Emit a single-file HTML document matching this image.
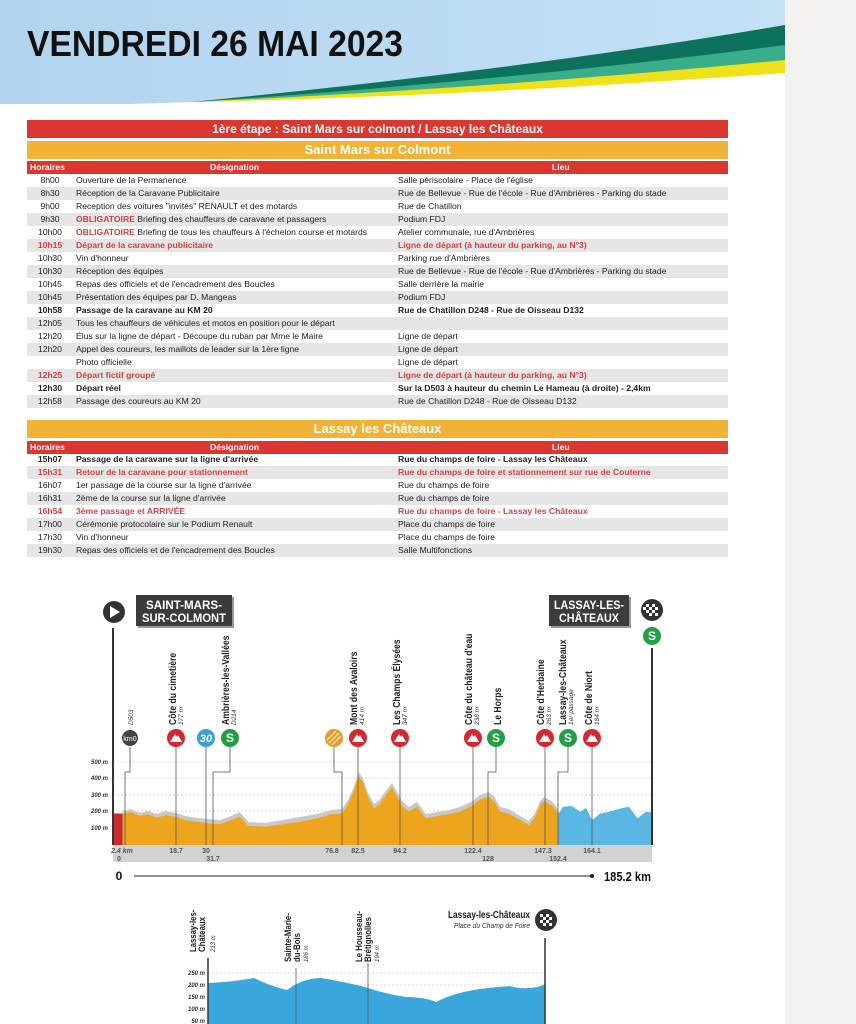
<!DOCTYPE html>
<html><head><meta charset="utf-8"><style>
*{margin:0;padding:0;box-sizing:border-box}
body{width:856px;height:1024px;overflow:hidden;background:#fff;font-family:"Liberation Sans",sans-serif;position:relative}
#side{position:absolute;left:785px;top:0;width:71px;height:1024px;background:#f3f2f0}
.row{position:absolute;left:27px;width:701px;height:13px;font-size:8.6px;line-height:13px;color:#222}
.row.g{background:#e6e6e6}
.row span{position:absolute;top:0;white-space:nowrap}
.t{left:0;width:46px;text-align:center}
.d{left:49px}
.l{left:371px}
.b{font-weight:bold}
.r{color:#d64040;font-weight:bold}
.bar{position:absolute;left:27px;width:701px;color:#fff;font-weight:bold;text-align:center}
.hdr{background:#d9372f;height:13px;font-size:8.6px;line-height:13px}
.hdr span{position:absolute;top:0}
</style></head><body>
<div id="side"></div>
<svg style="position:absolute;left:0;top:0" width="785" height="110">
<defs><linearGradient id="bg" x1="0" x2="1"><stop offset="0" stop-color="#b2d4ee"/><stop offset="1" stop-color="#c4e1f6"/></linearGradient></defs>
<rect x="0" y="0" width="785" height="104" fill="url(#bg)"/>
<path d="M130 104 Q450 95 785 73 L785 110 L0 110 L0 104Z" fill="#fff"/>
<path d="M191 102 Q500 85 785 59 L785 73 Q450 97 191 102Z" fill="#efe21a"/>
<path d="M191 102 Q500 80 785 44 L785 60 Q500 88 191 102Z" fill="#3aae8b"/>
<path d="M191 102 Q520 70 785 25 L785 45 Q500 82 191 102Z" fill="#0d725d"/>
<text x="27" y="56" font-family="'Liberation Sans',sans-serif" font-weight="bold" font-size="36" textLength="376" lengthAdjust="spacingAndGlyphs" fill="#111">VENDREDI 26 MAI 2023</text>
</svg>

<div class="bar" style="top:120px;height:18px;background:#d9372f;font-size:12px;line-height:18px">1ère étape : Saint Mars sur colmont / Lassay les Châteaux</div>
<div class="bar" style="top:141px;height:18px;background:#f2b233;font-size:13px;line-height:18px">Saint Mars sur Colmont</div>
<div class="bar hdr" style="top:161px"><span style="left:3px">Horaires</span><span style="left:183px">Désignation</span><span style="left:525px">Lieu</span></div>

<div class="row" style="top:174px"><span class="t">8h00</span><span class="d">Ouverture de la Permanence</span><span class="l">Salle périscolaire - Place de l'église</span></div>
<div class="row g" style="top:187px"><span class="t">8h30</span><span class="d">Réception de la Caravane Publicitaire</span><span class="l">Rue de Bellevue - Rue de l'école - Rue d'Ambrières - Parking du stade</span></div>
<div class="row" style="top:200px"><span class="t">9h00</span><span class="d">Reception des voitures "invités" RENAULT et des motards</span><span class="l">Rue de Chatillon</span></div>
<div class="row g" style="top:213px"><span class="t">9h30</span><span class="d"><b style="color:#d64040">OBLIGATOIRE</b> Briefing des chauffeurs de caravane et passagers</span><span class="l">Podium FDJ</span></div>
<div class="row" style="top:226px"><span class="t">10h00</span><span class="d"><b style="color:#d64040">OBLIGATOIRE</b> Briefing de tous les chauffeurs à l'échelon course et motards</span><span class="l">Atelier communale, rue d'Ambrières</span></div>
<div class="row g r" style="top:239px"><span class="t">10h15</span><span class="d">Départ de la caravane publicitaire</span><span class="l">Ligne de départ (à hauteur du parking, au N°3)</span></div>
<div class="row" style="top:252px"><span class="t">10h30</span><span class="d">Vin d'honneur</span><span class="l">Parking rue d'Ambrières</span></div>
<div class="row g" style="top:265px"><span class="t">10h30</span><span class="d">Réception des équipes</span><span class="l">Rue de Bellevue - Rue de l'école - Rue d'Ambrières - Parking du stade</span></div>
<div class="row" style="top:278px"><span class="t">10h45</span><span class="d">Repas des officiels et de l'encadrement des Boucles</span><span class="l">Salle derrière la mairie</span></div>
<div class="row g" style="top:291px"><span class="t">10h45</span><span class="d">Présentation des équipes par D. Mangeas</span><span class="l">Podium FDJ</span></div>
<div class="row b" style="top:304px"><span class="t">10h58</span><span class="d">Passage de la caravane au KM 20</span><span class="l">Rue de Chatillon D248 - Rue de Oisseau D132</span></div>
<div class="row g" style="top:317px"><span class="t">12h05</span><span class="d">Tous les chauffeurs de véhicules et motos en position pour le départ</span></div>
<div class="row" style="top:330px"><span class="t">12h20</span><span class="d">Élus sur la ligne de départ - Découpe du ruban par Mme le Maire</span><span class="l">Ligne de départ</span></div>
<div class="row g" style="top:343px"><span class="t">12h20</span><span class="d">Appel des coureurs, les maillots de leader sur la 1ère ligne</span><span class="l">Ligne de départ</span></div>
<div class="row" style="top:356px"><span class="d">Photo officielle</span><span class="l">Ligne de départ</span></div>
<div class="row g r" style="top:369px"><span class="t">12h25</span><span class="d">Départ fictif groupé</span><span class="l">Ligne de départ (à hauteur du parking, au N°3)</span></div>
<div class="row b" style="top:382px"><span class="t">12h30</span><span class="d">Départ réel</span><span class="l">Sur la D503 à hauteur du chemin Le Hameau (à droite) - 2,4km</span></div>
<div class="row g" style="top:395px"><span class="t">12h58</span><span class="d">Passage des coureurs au KM 20</span><span class="l">Rue de Chatillon D248 - Rue de Oisseau D132</span></div>

<div class="bar" style="top:420px;height:18px;background:#f2b233;font-size:13px;line-height:18px">Lassay les Châteaux</div>
<div class="bar hdr" style="top:441px"><span style="left:3px">Horaires</span><span style="left:183px">Désignation</span><span style="left:525px">Lieu</span></div>
<div class="row b" style="top:453px"><span class="t">15h07</span><span class="d">Passage de la caravane sur la ligne d'arrivée</span><span class="l">Rue du champs de foire - Lassay les Châteaux</span></div>
<div class="row g r" style="top:466px"><span class="t">15h31</span><span class="d">Retour de la caravane pour stationnement</span><span class="l">Rue du champs de foire et stationnement sur rue de Couterne</span></div>
<div class="row" style="top:479px"><span class="t">16h07</span><span class="d">1er passage de la course sur la ligne d'arrivée</span><span class="l">Rue du champs de foire</span></div>
<div class="row g" style="top:492px"><span class="t">16h31</span><span class="d">2ème de la course sur la ligne d'arrivée</span><span class="l">Rue du champs de foire</span></div>
<div class="row r" style="top:505px"><span class="t">16h54</span><span class="d">3ème passage et ARRIVÉE</span><span class="l">Rue du champs de foire - Lassay les Châteaux</span></div>
<div class="row g" style="top:518px"><span class="t">17h00</span><span class="d">Cérémonie protocolaire sur le Podium Renault</span><span class="l">Place du champs de foire</span></div>
<div class="row" style="top:531px"><span class="t">17h30</span><span class="d">Vin d'honneur</span><span class="l">Place du champs de foire</span></div>
<div class="row g" style="top:544px"><span class="t">19h30</span><span class="d">Repas des officiels et de l'encadrement des Boucles</span><span class="l">Salle Multifonctions</span></div>

<svg style="position:absolute;left:0;top:0" width="785" height="1024" font-family="'Liberation Sans',sans-serif">
<g stroke="#ccc" stroke-dasharray="2,2" stroke-width="0.7">
<line x1="113" y1="762" x2="652" y2="762"/><line x1="113" y1="778" x2="652" y2="778"/><line x1="113" y1="795" x2="652" y2="795"/><line x1="113" y1="811" x2="652" y2="811"/><line x1="113" y1="828" x2="652" y2="828"/>
</g>
<g font-size="6" font-style="italic" font-weight="bold" fill="#333" text-anchor="end">
<text x="108" y="764">500 m</text><text x="108" y="780">400 m</text><text x="108" y="797">300 m</text><text x="108" y="813">200 m</text><text x="108" y="830">100 m</text></g>
<path d="M122.5 811 L131.1 809 L139.7 813 L148.2 811 L156.8 814 L165.4 811 L176 813 L185.4 816 L196.9 818 L208.3 819 L219.8 820 L231.2 816 L239.8 812 L248.4 822 L265.6 823 L282.7 820 L299.9 817 L317.1 814 L331.4 810 L342.2 809 L348.5 799 L354.2 786 L358.5 772 L362.8 778 L368.5 794 L374.3 804 L380 799 L385.7 791 L392 783 L397.2 792 L402.9 802 L408.6 807 L417.2 802 L425.8 814 L437.2 812 L448.7 810 L460.1 807 L472.7 801 L480.1 795 L488.7 792 L494.4 797 L500.2 807 L508.7 809 L520.2 816 L528.8 821 L534.5 814 L540.2 801 L543.9 797 L551.6 801 L558.5 809 L558.5 845 L122.5 845Z" fill="#c8c8c8"/>
<path d="M122.5 813.5 L131.1 811.8 L139.7 816 L148.2 814.3 L156.8 817.6 L165.4 815.1 L176 816.8 L185.4 820.1 L196.9 821.8 L208.3 823.4 L219.8 824.3 L231.2 820.1 L239.8 816.8 L248.4 825.9 L265.6 826.7 L282.7 824.3 L299.9 821.8 L317.1 818.4 L331.4 814.3 L342.2 813.5 L348.5 803.5 L354.2 790.2 L358.5 776.3 L362.8 781.9 L368.5 798.5 L374.3 808.5 L380 803.5 L385.7 795.2 L392 787.4 L397.2 796.9 L402.9 806.8 L408.6 811.8 L417.2 806.8 L425.8 818.4 L437.2 816 L448.7 814.3 L460.1 811.8 L472.7 805.2 L480.1 799.4 L488.7 796.9 L494.4 801.8 L500.2 811.8 L508.7 813.5 L520.2 820.1 L528.8 825.1 L534.5 818.4 L540.2 805.2 L543.9 801.3 L551.6 805.2 L558.5 813.5 L558.5 845 L122.5 845Z" fill="#eea51e"/>
<path d="M558.5 813.5 L563.1 806.8 L571.7 806 L580.3 811.8 L586 807.7 L592 820.1 L600.3 813.5 L608.9 811.8 L620.3 808.5 L628.9 806.8 L637.5 818.4 L646.1 811.8 L652.4 812.6 L652.4 845 L558.5 845Z" fill="#5ab6e2"/>
<path d="M113 813.5 L122.5 813.5 L122.5 845 L113 845Z" fill="#c62a2a"/>
<rect x="113" y="845" width="539" height="17" fill="#d2d2d2"/>
<g stroke="#555" stroke-width="0.8" fill="none">
<path d="M130 747 V772 H125 V845"/><line x1="176" y1="747" x2="176" y2="845"/><line x1="206" y1="747" x2="206" y2="845"/>
<path d="M230 747 V772 H213 V845"/><path d="M334 747 V772 H342 V845"/><line x1="358" y1="747" x2="358" y2="845"/>
<line x1="400" y1="747" x2="400" y2="845"/><line x1="473" y1="747" x2="473" y2="845"/><path d="M496 747 V772 H488 V845"/>
<line x1="545" y1="747" x2="545" y2="845"/><path d="M568 747 V772 H558 V845"/><line x1="592" y1="747" x2="592" y2="845"/>
</g>
<line x1="113" y1="628" x2="113" y2="845" stroke="#333" stroke-width="2"/>
<line x1="652" y1="648" x2="652" y2="845" stroke="#333" stroke-width="2"/>
<circle cx="130" cy="738" r="8" fill="#444"/><text x="130" y="741" font-size="7" fill="#fff" text-anchor="middle">km0</text>
<g fill="#d6262e"><circle cx="176" cy="738" r="9"/><circle cx="358" cy="738" r="9"/><circle cx="400" cy="738" r="9"/><circle cx="473" cy="738" r="9"/><circle cx="545" cy="738" r="9"/><circle cx="592" cy="738" r="9"/></g>
<g fill="#fff"><path d="M170 742 L175 734 L177 737 L178 735 L182 742Z"/><path d="M352 742 L357 734 L359 737 L360 735 L364 742Z"/><path d="M394 742 L399 734 L401 737 L402 735 L406 742Z"/><path d="M467 742 L472 734 L474 737 L475 735 L479 742Z"/><path d="M539 742 L544 734 L546 737 L547 735 L551 742Z"/><path d="M586 742 L591 734 L593 737 L594 735 L598 742Z"/></g>
<circle cx="206" cy="738" r="9" fill="#3a9fd8"/><text x="206" y="742" font-size="11" font-weight="bold" font-style="italic" fill="#fff" text-anchor="middle">30</text>
<g fill="#23a043"><circle cx="230" cy="738" r="9"/><circle cx="496" cy="738" r="9"/><circle cx="568" cy="738" r="9"/><circle cx="652" cy="636" r="9"/></g>
<g fill="#fff" font-size="12" font-weight="bold" text-anchor="middle"><text x="230" y="742">S</text><text x="496" y="742">S</text><text x="568" y="742">S</text><text x="652" y="640">S</text></g>
<circle cx="334" cy="738" r="9" fill="#e59a2a"/><path d="M329 743 L339 733 M332 745 L341 736 M327 740 L336 731" stroke="#fbe0a8" stroke-width="1.5"/>
<circle cx="114" cy="612" r="11" fill="#333"/><path d="M110 606 L120 612 L110 618Z" fill="#fff"/>
<circle cx="652" cy="610" r="11" fill="#333"/>
<g fill="#fff"><rect x="646" y="604" width="3" height="3"/><rect x="652" y="604" width="3" height="3"/><rect x="649" y="607" width="3" height="3"/><rect x="655" y="607" width="3" height="3"/><rect x="646" y="610" width="3" height="3"/><rect x="652" y="610" width="3" height="3"/><rect x="649" y="613" width="3" height="3"/><rect x="655" y="613" width="3" height="3"/><rect x="643" y="607" width="3" height="3"/></g>
<rect x="138" y="597" width="96" height="31" fill="#999"/>
<rect x="136" y="595" width="96" height="31" fill="#3b3b3b"/>
<text x="146" y="609" font-size="12" font-weight="bold" fill="#fff" textLength="76" lengthAdjust="spacingAndGlyphs">SAINT-MARS-</text>
<text x="142" y="622" font-size="12" font-weight="bold" fill="#fff" textLength="84" lengthAdjust="spacingAndGlyphs">SUR-COLMONT</text>
<rect x="551" y="597" width="80" height="31" fill="#999"/>
<rect x="549" y="595" width="80" height="31" fill="#3b3b3b"/>
<text x="554" y="609" font-size="12" font-weight="bold" fill="#fff" textLength="70" lengthAdjust="spacingAndGlyphs">LASSAY-LES-</text>
<text x="559" y="622" font-size="12" font-weight="bold" fill="#fff" textLength="60" lengthAdjust="spacingAndGlyphs">CHÂTEAUX</text>
<g font-size="10.5" font-weight="bold" fill="#222">
<text transform="translate(176,725) rotate(-90) scale(0.82,1)">Côte du cimetière</text>
<text transform="translate(229,725) rotate(-90) scale(0.82,1)">Ambrières-les-Vallées</text>
<text transform="translate(357,725) rotate(-90) scale(0.82,1)">Mont des Avaloirs</text>
<text transform="translate(400,725) rotate(-90) scale(0.82,1)">Les Champs Élysées</text>
<text transform="translate(472,725) rotate(-90) scale(0.82,1)">Côte du château d'eau</text>
<text transform="translate(501,725) rotate(-90) scale(0.82,1)">Le Horps</text>
<text transform="translate(544,725) rotate(-90) scale(0.82,1)">Côte d'Herbaine</text>
<text transform="translate(566,725) rotate(-90) scale(0.82,1)">Lassay-les-Châteaux</text>
<text transform="translate(592,725) rotate(-90) scale(0.82,1)">Côte de Niort</text>
</g>
<g font-size="6.5" font-style="italic" fill="#333">
<text transform="translate(133,725) rotate(-90)">D503</text>
<text transform="translate(183,725) rotate(-90)">177 m</text>
<text transform="translate(236,725) rotate(-90)">D214</text>
<text transform="translate(364,725) rotate(-90)">414 m</text>
<text transform="translate(407,725) rotate(-90)">347 m</text>
<text transform="translate(479,725) rotate(-90)">238 m</text>
<text transform="translate(551,725) rotate(-90)">263 m</text>
<text transform="translate(573,725) rotate(-90)">1er passage</text>
<text transform="translate(599,725) rotate(-90)">184 m</text>
</g>
<g font-size="7" font-weight="bold" fill="#555" text-anchor="middle">
<text x="122" y="853" font-style="italic">2.4 km</text><text x="176" y="853">18.7</text><text x="206" y="853">30</text>
<text x="332" y="853">76.8</text><text x="358" y="853">82.5</text><text x="400" y="853">94.2</text>
<text x="473" y="853">122.4</text><text x="543" y="853">147.3</text><text x="592" y="853">164.1</text>
<text x="119" y="861">0</text><text x="213" y="861">31.7</text><text x="488" y="861">128</text><text x="558" y="861">152.4</text>
</g>
<text x="119" y="880" font-size="12" font-weight="bold" fill="#111" text-anchor="middle">0</text>
<line x1="134" y1="876" x2="591" y2="876" stroke="#222" stroke-width="1"/><circle cx="592" cy="876" r="2" fill="#222"/>
<text x="604" y="881" font-size="13" font-weight="bold" fill="#111" textLength="47" lengthAdjust="spacingAndGlyphs">185.2 km</text>

<g stroke="#e3a0a0" stroke-dasharray="2,2" stroke-width="0.6"><line x1="208" y1="973" x2="545" y2="973"/><line x1="208" y1="985" x2="545" y2="985"/></g>
<g font-size="6" font-style="italic" font-weight="bold" fill="#333" text-anchor="end">
<text x="205" y="975">250 m</text><text x="205" y="987">200 m</text><text x="205" y="999">150 m</text><text x="205" y="1011">100 m</text><text x="205" y="1023">50 m</text></g>
<path d="M208 983 Q232 982 254 978 Q270 986 287 990 Q303 978 321 978 Q345 982 365 987 Q385 994 406 997 Q425 997 436 1002 Q444 998 450 996 Q465 991 480 989 Q495 987 510 986 Q520 989 528 988 Q538 988 545 984 L545 1024 L208 1024Z" fill="#3aa6de"/>
<line x1="208" y1="958" x2="208" y2="1024" stroke="#333" stroke-width="1.5"/>
<line x1="545" y1="938" x2="545" y2="1024" stroke="#333" stroke-width="1.5"/>
<line x1="296" y1="968" x2="296" y2="1024" stroke="#555" stroke-width="0.8"/>
<line x1="368" y1="963" x2="368" y2="1024" stroke="#555" stroke-width="0.8"/>
<g font-size="9.5" font-weight="bold" fill="#222">
<text transform="translate(196,952) rotate(-90) scale(0.82,1)">Lassay-les-</text><text transform="translate(205,952) rotate(-90) scale(0.82,1)">Châteaux</text>
<text transform="translate(291,962) rotate(-90) scale(0.82,1)">Sainte-Marie-</text><text transform="translate(300,962) rotate(-90) scale(0.82,1)">du-Bois</text>
<text transform="translate(362,962) rotate(-90) scale(0.82,1)">Le Housseau-</text><text transform="translate(371,962) rotate(-90) scale(0.82,1)">Brétignolles</text>
</g>
<g font-size="6" font-style="italic" fill="#333">
<text transform="translate(215,952) rotate(-90)">213 m</text><text transform="translate(308,962) rotate(-90)">186 m</text><text transform="translate(379,962) rotate(-90)">194 m</text>
</g>
<text x="530" y="918" font-size="10" font-weight="bold" fill="#222" text-anchor="end" textLength="82" lengthAdjust="spacingAndGlyphs">Lassay-les-Châteaux</text>
<text x="530" y="928" font-size="7" font-style="italic" fill="#333" text-anchor="end" textLength="76" lengthAdjust="spacingAndGlyphs">Place du Champ de Foire</text>
<circle cx="546" cy="920" r="11" fill="#333"/>
<g fill="#fff"><rect x="540" y="914" width="3" height="3"/><rect x="546" y="914" width="3" height="3"/><rect x="543" y="917" width="3" height="3"/><rect x="549" y="917" width="3" height="3"/><rect x="540" y="920" width="3" height="3"/><rect x="546" y="920" width="3" height="3"/><rect x="543" y="923" width="3" height="3"/><rect x="549" y="923" width="3" height="3"/></g>
</svg>
</body></html>
